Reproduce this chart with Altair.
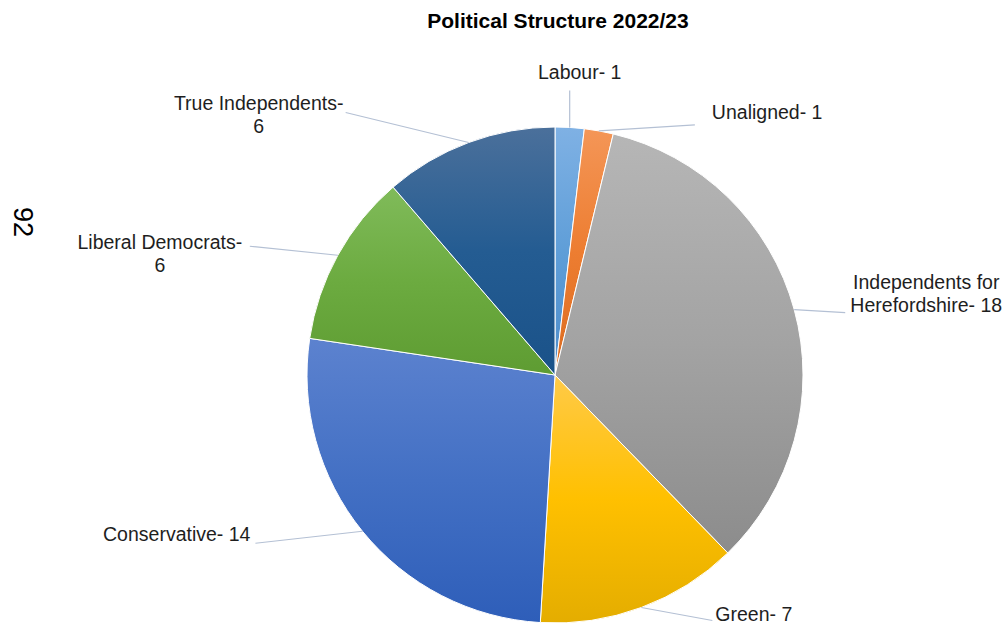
import altair as alt
import pandas as pd

# ---- data ----
parties = ["Labour", "Unaligned", "Independents for Herefordshire", "Green",
           "Conservative", "Liberal Democrats", "True Independents"]
seats = [1, 1, 18, 7, 14, 6, 6]
labels = ["Labour- 1", "Unaligned- 1", "Independents for\nHerefordshire- 18", "Green- 7",
          "Conservative- 14", "Liberal Democrats-\n6", "True Independents-\n6"]
page_number = ["92"]
title_text = ["Political Structure 2022/23"]

total = sum(seats)
df = pd.DataFrame({"party": parties, "seats": seats, "label": labels,
                   "order": list(range(len(parties)))})

# ---- layout / style ----
CX, CY, R = 555, 375, 248
FONT = "Liberation Sans"

GRADIENTS = {
    "Labour": ("#7fb1e4", "#5f9ed8", "#4d8cca"),
    "Unaligned": ("#f49657", "#ed7d31", "#da6b20"),
    "Independents for Herefordshire": ("#b6b6b6", "#a3a3a3", "#8c8c8c"),
    "Green": ("#ffca48", "#ffc000", "#e4ad00"),
    "Conservative": ("#5c82cf", "#4370c4", "#2e5eb9"),
    "Liberal Democrats": ("#80bb5a", "#6cab40", "#5e9c32"),
    "True Independents": ("#4b709b", "#245c92", "#1a5289"),
}
# leader vector from slice edge, text align, text offset from leader end
LEADERS = {
    "Labour": (0, -37, "center", 10, -17),
    "Unaligned": (96, -6, "left", 17, -12),
    "Independents for Herefordshire": (51, 3, "center", 81, -30),
    "Green": (71, 13, "left", 3, -5),
    "Conservative": (-107, 12, "right", -5, -8),
    "Liberal Democrats": (-88, -9, "center", -90, -3),
    "True Independents": (-123, -30, "center", -87, -9),
}

base = alt.Chart(df).transform_joinaggregate(
    total="sum(seats)"
).transform_window(
    end="sum(seats)", sort=[alt.SortField("order")], frame=[None, 0]
).transform_calculate(
    start="datum.end - datum.seats",
    ang="(datum.end - datum.seats / 2) / datum.total * 2 * PI",
    ex=f"{CX} + {R} * sin(datum.ang)",
    ey=f"{CY} - {R} * cos(datum.ang)",
)

arcs, rules, texts = [], [], []
for p in parties:
    c1, c2, c3 = GRADIENTS[p]
    ldx, ldy, align, tdx, tdy = LEADERS[p]
    sub = base.transform_filter(alt.datum.party == p).transform_calculate(
        lx=f"datum.ex + ({ldx})", ly=f"datum.ey + ({ldy})"
    )
    grad = alt.LinearGradient(
        gradient="linear", x1=0, y1=0, x2=0, y2=1,
        stops=[alt.GradientStop(offset=0, color=c1),
               alt.GradientStop(offset=0.5, color=c2),
               alt.GradientStop(offset=1, color=c3)],
    )
    arcs.append(
        sub.mark_arc(outerRadius=R, fill=grad, stroke="white", strokeWidth=1).encode(
            theta=alt.Theta("start:Q", scale=alt.Scale(domain=[0, total])),
            theta2="end:Q",
            x=alt.value(CX),
            y=alt.value(CY),
        )
    )
    rules.append(
        sub.mark_rule(color="#b4c0d4", strokeWidth=1.2).encode(
            x=alt.X("ex:Q", scale=None, axis=None),
            y=alt.Y("ey:Q", scale=None, axis=None),
            x2="lx:Q",
            y2="ly:Q",
        )
    )
    texts.append(
        sub.mark_text(align=align, baseline="middle", dx=tdx, dy=tdy,
                      fontSize=19.5, font=FONT, color="#1e1e1e",
                      lineBreak="\n", lineHeight=23).encode(
            x=alt.X("lx:Q", scale=None, axis=None),
            y=alt.Y("ly:Q", scale=None, axis=None),
            text="label:N",
        )
    )

page = alt.Chart(pd.DataFrame({"t": page_number})).mark_text(
    angle=90, fontSize=27, font=FONT, color="#000000", align="center", baseline="middle"
).encode(x=alt.value(22), y=alt.value(222), text="t:N")

title = alt.Chart(pd.DataFrame({"t": title_text})).mark_text(
    fontSize=21, font=FONT, fontWeight="bold", color="#000000",
    align="center", baseline="middle"
).encode(x=alt.value(558), y=alt.value(22), text="t:N")

chart = alt.layer(*arcs, *rules, *texts, page, title).properties(
    width=1005, height=624, autosize="none", padding=0,
).configure_view(stroke=None)

chart.save("out.html", embed_options={"renderer": "svg", "actions": False})
